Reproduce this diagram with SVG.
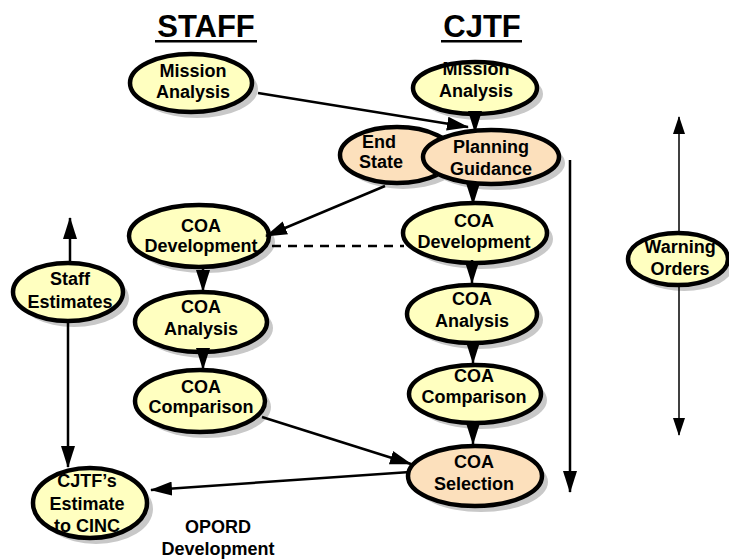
<svg xmlns="http://www.w3.org/2000/svg" width="729" height="559" viewBox="0 0 729 559">
<defs>
<marker id="ah" markerUnits="userSpaceOnUse" markerWidth="22" markerHeight="14" refX="21" refY="7" orient="auto"><path d="M0,0 L22,7 L0,14 z" fill="#000"/></marker>
<marker id="ahs" markerUnits="userSpaceOnUse" markerWidth="18" markerHeight="12" refX="17" refY="6" orient="auto"><path d="M0,0 L18,6 L0,12 z" fill="#000"/></marker>
</defs>
<style>
.sh{fill:#c8c8c8}
.y{fill:#ffffc0;stroke:#000;stroke-width:4.5}
.p{fill:#fce0bc;stroke:#000;stroke-width:4.5}
text{font-family:"Liberation Sans",Arial,sans-serif;font-weight:bold;font-size:18px;text-anchor:middle;fill:#000}
.t{font-size:31px}
.c{stroke:#000;stroke-width:2.5;fill:none;marker-end:url(#ah)}
.w{stroke:#000;stroke-width:1.5;fill:none;marker-end:url(#ahs)}
</style>
<rect width="729" height="559" fill="#fff"/>
<g id="titles">
<text class="t" x="206" y="37">STAFF</text>
<rect x="155" y="40" width="102" height="2.5" fill="#000"/>
<text class="t" x="482" y="37">CJTF</text>
<rect x="441" y="40" width="81" height="2.5" fill="#000"/>
</g>
<g id="staff-mission">
<ellipse class="sh" cx="197" cy="89" rx="61" ry="29"/>
<ellipse class="y" cx="191" cy="83" rx="61" ry="29"/>
<text x="193" y="77">Mission</text><text x="193" y="98">Analysis</text>
</g>
<g id="cjtf-mission">
<ellipse class="sh" cx="481" cy="94" rx="62" ry="26"/>
<ellipse class="y" cx="475" cy="88" rx="62" ry="26"/>
<text x="476" y="75">Mission</text><text x="476" y="97">Analysis</text>
</g>
<g id="end-state">
<ellipse class="sh" cx="403" cy="161" rx="57" ry="28"/>
<ellipse class="p" cx="397" cy="155" rx="57" ry="28"/>
<text x="379" y="148">End</text><text x="381" y="168">State</text>
</g>
<g id="planning-guidance">
<ellipse class="sh" cx="497" cy="163" rx="68" ry="27"/>
<ellipse class="p" cx="491" cy="157" rx="68" ry="27"/>
<text x="491" y="153">Planning</text><text x="491" y="175">Guidance</text>
</g>
<g id="staff-coa-dev">
<ellipse class="sh" cx="205" cy="242" rx="70" ry="31"/>
<ellipse class="y" cx="199" cy="236" rx="70" ry="31"/>
<text x="201" y="232">COA</text><text x="201" y="252">Development</text>
</g>
<g id="staff-estimates">
<ellipse class="sh" cx="74" cy="298" rx="55" ry="29"/>
<ellipse class="y" cx="68" cy="292" rx="55" ry="29"/>
<text x="70" y="285">Staff</text><text x="70" y="308">Estimates</text>
</g>
<g id="staff-coa-analysis">
<ellipse class="sh" cx="207" cy="328" rx="66" ry="30"/>
<ellipse class="y" cx="201" cy="322" rx="66" ry="30"/>
<text x="201" y="313">COA</text><text x="201" y="335">Analysis</text>
</g>
<g id="staff-coa-comparison">
<ellipse class="sh" cx="206" cy="407" rx="65" ry="31"/>
<ellipse class="y" cx="200" cy="401" rx="65" ry="31"/>
<text x="201" y="393">COA</text><text x="201" y="413">Comparison</text>
</g>
<g id="cjtf-coa-dev">
<ellipse class="sh" cx="481" cy="239" rx="72" ry="30"/>
<ellipse class="y" cx="475" cy="233" rx="72" ry="30"/>
<text x="474" y="227">COA</text><text x="474" y="248">Development</text>
</g>
<g id="cjtf-coa-analysis">
<ellipse class="sh" cx="478" cy="320" rx="65" ry="29"/>
<ellipse class="y" cx="472" cy="314" rx="65" ry="29"/>
<text x="472" y="305">COA</text><text x="472" y="327">Analysis</text>
</g>
<g id="cjtf-coa-comparison">
<ellipse class="sh" cx="481" cy="400" rx="66" ry="29"/>
<ellipse class="y" cx="475" cy="394" rx="66" ry="29"/>
<text x="474" y="382">COA</text><text x="474" y="403">Comparison</text>
</g>
<g id="coa-selection">
<ellipse class="sh" cx="481" cy="482" rx="67" ry="30"/>
<ellipse class="p" cx="475" cy="476" rx="67" ry="30"/>
<text x="474" y="468">COA</text><text x="474" y="490">Selection</text>
</g>
<g id="cjtf-estimate">
<ellipse class="sh" cx="96" cy="509" rx="57" ry="35"/>
<ellipse class="y" cx="90" cy="503" rx="57" ry="35"/>
<text x="87" y="487">CJTF’s</text><text x="87" y="510">Estimate</text><text x="87" y="532">to CINC</text>
</g>
<g id="warning-orders">
<ellipse class="sh" cx="684" cy="265" rx="50" ry="26"/>
<ellipse class="y" cx="678" cy="259" rx="50" ry="26"/>
<text x="680" y="253">Warning</text><text x="680" y="275">Orders</text>
</g>
<g id="opord">
<text x="218" y="533">OPORD</text><text x="218" y="555">Development</text>
</g>
<g id="connectors">
<line class="c" x1="258" y1="93" x2="468" y2="127"/>
<line class="c" x1="475" y1="113" x2="475" y2="132"/>
<line class="c" x1="473" y1="184" x2="473" y2="204"/>
<line class="c" x1="385" y1="186" x2="266" y2="236"/>
<line x1="272" y1="246" x2="404" y2="246" stroke="#000" stroke-width="2.5" stroke-dasharray="9,7"/>
<line class="c" x1="203" y1="266" x2="203" y2="291"/>
<line class="c" x1="203" y1="350" x2="203" y2="369"/>
<line class="c" x1="472" y1="260" x2="472" y2="283"/>
<line class="c" x1="473" y1="341" x2="473" y2="363"/>
<line class="c" x1="473" y1="421" x2="473" y2="444"/>
<line class="c" x1="262" y1="417" x2="411" y2="464"/>
<line class="c" x1="410" y1="472" x2="151" y2="490"/>
<line class="c" x1="70" y1="263" x2="70" y2="218"/>
<line class="c" x1="68" y1="322" x2="68" y2="467"/>
<line class="c" x1="570" y1="160" x2="570" y2="492"/>
<line class="w" x1="679" y1="233" x2="679" y2="117"/>
<line class="w" x1="679" y1="285" x2="679" y2="435"/>
</g>
</svg>
